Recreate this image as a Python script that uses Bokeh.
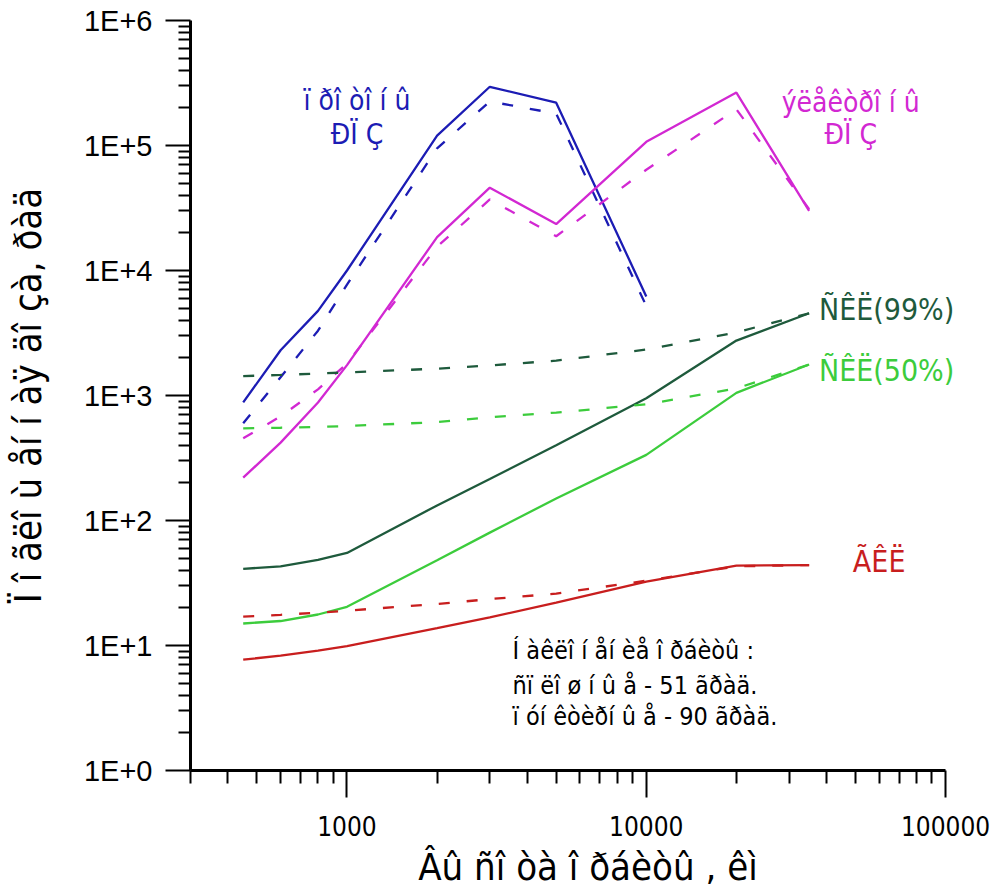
from bokeh.plotting import figure
from bokeh.models import Range1d, FixedTicker, Label
from bokeh.embed import file_html
from bokeh.resources import INLINE

# ---------------- data ----------------
alt = [450, 600, 800, 1000, 2000, 3000, 5000, 10000, 20000, 35000]
alt_p = [450, 600, 800, 1000, 2000, 3000, 5000, 10000]

prot_51 = [880, 2300, 4750, 10000, 120000, 295000, 220000, 6200]
prot_90 = [600, 1400, 3300, 7700, 95000, 225000, 180000, 5200]
elec_51 = [220, 420, 880, 1750, 18500, 46000, 23500, 107000, 265000, 30000]
elec_90 = [455, 680, 1120, 1800, 15500, 37000, 18800, 64000, 195000, 31000]
skl99_51 = [41, 43, 48.5, 55, 132, 215, 400, 950, 2750, 4550]
skl99_90 = [1430, 1460, 1500, 1530, 1640, 1740, 1900, 2330, 3200, 4550]
skl50_51 = [15, 15.7, 17.7, 20.4, 48, 80, 150, 335, 1050, 1770]
skl50_90 = [546, 552, 560, 570, 612, 670, 730, 850, 1140, 1770]
gkl_51 = [7.7, 8.3, 9.1, 9.9, 13.8, 16.8, 22, 32.5, 43.5, 44]
gkl_90 = [17, 17.6, 18.3, 19, 21.5, 23.5, 26, 33, 43, 44]

y_major = [1, 10, 100, 1000, 10000, 100000, 1000000]
y_labels = ["1E+0", "1E+1", "1E+2", "1E+3", "1E+4", "1E+5", "1E+6"]
x_major = [1000, 10000, 100000]
x_labels = ["1000", "10000", "100000"]

x_title = "Âû ñî òà î ðáèòû , êì"
y_title = "Ï î ãëî ù åí í àÿ äî çà, ðàä"
lbl_prot = ["ï ðî òî í û", "ÐÏ Ç"]
lbl_elec = ["ýëåêòðî í û", "ÐÏ Ç"]
lbl_skl99 = "ÑÊË(99%)"
lbl_skl50 = "ÑÊË(50%)"
lbl_gkl = "ÃÊË"
note = ["Í àêëî í åí èå î ðáèòû :", "ñï ëî ø í û å - 51 ãðàä.", "ï óí êòèðí û å - 90 ãðàä."]

BLUE = "#1c1cb4"
MAG = "#d228d2"
DKG = "#1e5a3c"
LTG = "#3ccc3c"
RED = "#c81e1e"

NARROW = "'Liberation Sans Narrow', 'DejaVu Sans Condensed', 'Arial Narrow', sans-serif"

# frame spans 300..1e5 over 755 px; extend a little to the right so labels fit
x_end = 10 ** (5 + 40 / 300)

p = figure(width=990, height=891, x_axis_type="log", y_axis_type="log",
           x_range=Range1d(300, x_end), y_range=Range1d(1, 1e6),
           output_backend="svg", toolbar_location=None,
           min_border_left=190, min_border_right=5, min_border_top=20, min_border_bottom=119)
p.outline_line_color = None
p.xgrid.visible = False
p.ygrid.visible = False
p.background_fill_color = "white"
p.border_fill_color = "white"

# axes
y_minor = [m * 10 ** e for e in range(0, 6) for m in range(2, 10)]
x_minor = [m * 10 ** e for e in range(2, 5) for m in range(2, 10)
           if 300 <= m * 10 ** e <= 100000 and m * 10 ** e not in x_major]
p.yaxis.ticker = FixedTicker(ticks=y_major, minor_ticks=y_minor)
p.xaxis.ticker = FixedTicker(ticks=x_major, minor_ticks=x_minor)
p.yaxis.major_label_overrides = {v: l for v, l in zip(y_major, y_labels)}
p.xaxis.major_label_overrides = {v: l for v, l in zip(x_major, x_labels)}
p.xaxis.bounds = (300, 100000)

for ax in (p.xaxis[0], p.yaxis[0]):
    ax.axis_line_width = 3
    ax.axis_line_color = "black"
    ax.major_tick_line_width = 2
    ax.minor_tick_line_width = 2
    ax.major_tick_line_color = "black"
    ax.minor_tick_line_color = "black"
    ax.major_tick_in = 0
    ax.minor_tick_in = 0
    ax.major_label_text_color = "black"
    ax.axis_label_text_color = "black"
    ax.axis_label_text_font_style = "normal"
    ax.axis_label_text_font = NARROW

p.yaxis.major_tick_out = 25
p.yaxis.minor_tick_out = 12
p.yaxis.major_label_standoff = 13
p.yaxis.major_label_text_font = "Liberation Sans"
p.yaxis.major_label_text_font_size = "29px"
p.yaxis.axis_label = y_title
p.yaxis.axis_label_text_font_size = "38px"
p.yaxis.axis_label_standoff = 31

p.xaxis.major_tick_out = 27
p.xaxis.minor_tick_out = 13
p.xaxis.major_label_standoff = 18
p.xaxis.major_label_text_font = NARROW
p.xaxis.major_label_text_font_size = "26px"
p.xaxis.axis_label = x_title
p.xaxis.axis_label_text_font_size = "38px"
p.xaxis.axis_label_standoff = 6

DASH = "11 17"
LW = 2.3
p.line(alt_p, prot_51, line_color=BLUE, line_width=LW)
p.line(alt_p, prot_90, line_color=BLUE, line_width=LW, line_dash=DASH)
p.line(alt, elec_51, line_color=MAG, line_width=LW)
p.line(alt, elec_90, line_color=MAG, line_width=LW, line_dash=DASH)
p.line(alt, skl99_51, line_color=DKG, line_width=LW)
p.line(alt, skl99_90, line_color=DKG, line_width=LW, line_dash=DASH)
p.line(alt, skl50_51, line_color=LTG, line_width=LW)
p.line(alt, skl50_90, line_color=LTG, line_width=LW, line_dash=DASH)
p.line(alt, gkl_51, line_color=RED, line_width=LW)
p.line(alt, gkl_90, line_color=RED, line_width=LW, line_dash=DASH)


def lab(x, y, t, color, size, align="left"):
    p.add_layout(Label(x=x, y=y, text=t, text_color=color, text_font=NARROW,
                       text_font_size=size, text_align=align, text_baseline="middle"))


for yy, t in zip([2.3e5, 1.22e5], lbl_prot):
    lab(1080, yy, t, BLUE, "28px", "center")
for yy, t in zip([2.22e5, 1.22e5], lbl_elec):
    lab(48200, yy, t, MAG, "28px", "center")
lab(37750, 4920, lbl_skl99, DKG, "30px")
lab(37750, 1580, lbl_skl50, LTG, "30px")
lab(49000, 46.9, lbl_gkl, RED, "30px")
for yy, t in zip([9.18, 4.83, 2.69], note):
    lab(3575, yy, t, "black", "25px")

open("out.html", "w").write(file_html(p, INLINE))
